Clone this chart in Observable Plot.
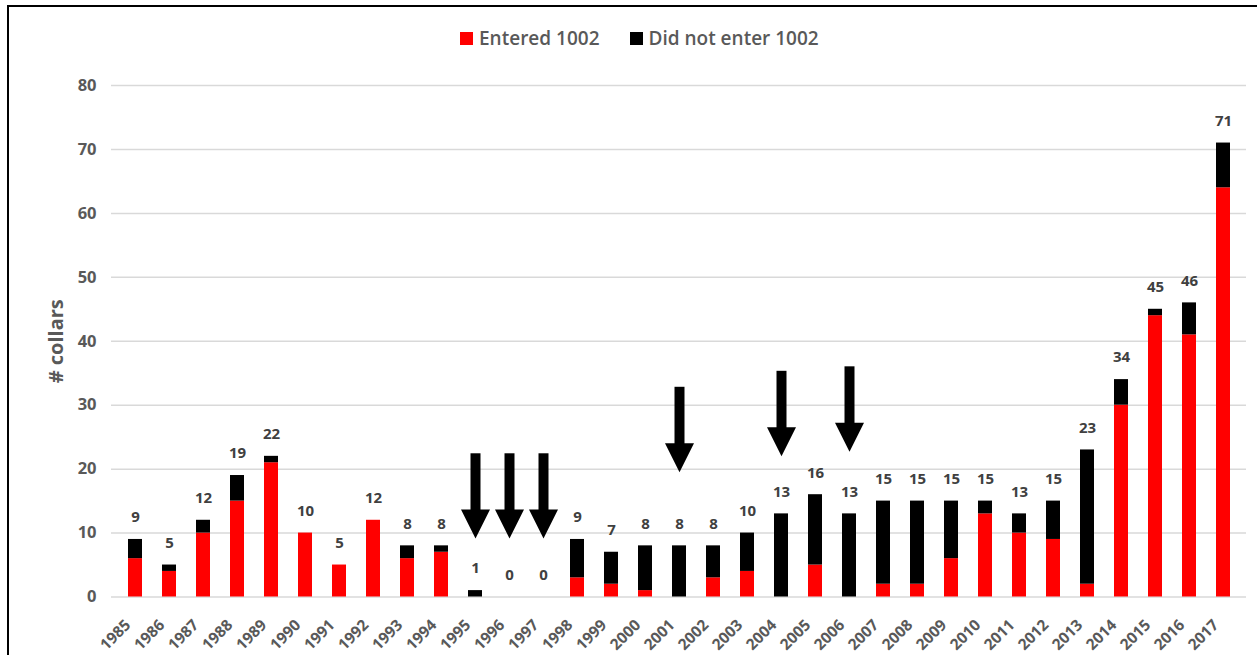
<!DOCTYPE html>
<html>
<head>
<meta charset="utf-8">
<script src="https://cdn.jsdelivr.net/npm/d3@7"></script>
<script src="https://cdn.jsdelivr.net/npm/@observablehq/plot@0.6"></script>
<style>
  html, body { margin: 0; padding: 0; background: #fff; overflow: hidden; width: 1257px; height: 655px; }
  #frame { position: absolute; left: 7px; top: 5px; width: 1300px; height: 700px;
           border-top: 2px solid #000; border-left: 2px solid #000; pointer-events: none; z-index: 5; }
  #legend { position: absolute; left: 460px; top: 26px; height: 24px; display: flex; align-items: center;
            font-family: "Open Sans", sans-serif; font-weight: 600; font-size: 19px; color: #595959; }
  #legend .sw { width: 13px; height: 13px; display: inline-block; margin-right: 6px; }
  #legend .item { display: flex; align-items: center; margin-right: 30px; }
  #chart { position: absolute; left: 0; top: 60px; }
</style>
</head>
<body>
<div id="frame"></div>
<div id="legend"></div>
<div id="chart"></div>
<script>
// ---- data ----
const years = [1985,1986,1987,1988,1989,1990,1991,1992,1993,1994,1995,1996,1997,1998,1999,2000,2001,2002,2003,2004,2005,2006,2007,2008,2009,2010,2011,2012,2013,2014,2015,2016,2017];
const entered = [6,4,10,15,21,10,5,12,6,7,0,0,0,3,2,1,0,3,4,0,5,0,2,2,6,13,10,9,2,30,44,41,64];
const notEntered = [3,1,2,4,1,0,0,0,2,1,1,0,0,6,5,7,8,5,6,13,11,13,13,13,9,2,3,6,21,4,1,5,7];
const totals = [9,5,12,19,22,10,5,12,8,8,1,0,0,9,7,8,8,8,10,13,16,13,15,15,15,15,13,15,23,34,45,46,71];
const seriesNames = ["Entered 1002", "Did not enter 1002"];
const seriesColors = ["#ff0000", "#000000"];
const yTicks = [0,10,20,30,40,50,60,70,80];
const yLabel = "# collars";
// arrows: year, shaft top value, tip value
const arrowYears = [1995,1996,1997,2001,2004,2006];
const arrowTop = [22.4,22.4,22.4,32.8,35.3,36.0];
const arrowTip = [9.15,9.15,9.15,19.5,22.0,22.7];

// ---- build tables ----
const stacked = [];
years.forEach((y, i) => {
  stacked.push({year: y, series: seriesNames[0], value: entered[i]});
  stacked.push({year: y, series: seriesNames[1], value: notEntered[i]});
});
const totalRows = years.map((y, i) => ({year: y, total: totals[i]}));
const arrows = arrowYears.map((y, i) => ({year: y, top: arrowTop[i], tip: arrowTip[i]}));

// legend
const legend = document.getElementById("legend");
seriesNames.forEach((n, i) => {
  const item = document.createElement("div");
  item.className = "item";
  const sw = document.createElement("span");
  sw.className = "sw";
  sw.style.background = seriesColors[i];
  const t = document.createElement("span");
  t.textContent = n;
  item.appendChild(sw); item.appendChild(t);
  legend.appendChild(item);
});

const headSymbol = {
  draw(context) {
    context.moveTo(-14.5, -29);
    context.lineTo(14.5, -29);
    context.lineTo(0, 0);
    context.closePath();
  }
};

const chart = Plot.plot({
  width: 1257,
  height: 595,
  marginLeft: 111,
  marginRight: 11,
  marginTop: 25,
  marginBottom: 58.5,
  style: {fontFamily: "'Open Sans', sans-serif", background: "transparent", overflow: "visible"},
  x: {type: "band", domain: years, paddingInner: 0.592, paddingOuter: 0.296},
  y: {domain: [0, 80]},
  color: {domain: seriesNames, range: seriesColors},
  marks: [
    Plot.gridY(yTicks, {stroke: "#d9d9d9", strokeOpacity: 1, strokeWidth: 1.5}),
    Plot.axisY(yTicks, {tickSize: 0, tickPadding: 15, fontSize: 16.5, fontWeight: 700, fill: "#595959", label: null}),
    Plot.axisX({tickRotate: -45, tickSize: 0, tickPadding: 18, dx: -7.5, dy: 7.5, fontSize: 15.5, fontWeight: 700, fill: "#595959", label: null, tickFormat: d => String(d)}),
    Plot.barY(stacked, {x: "year", y: "value", fill: "series", order: seriesNames}),
    Plot.text(totalRows, {x: "year", y: "total", text: d => String(d.total), dy: -22, fontSize: 15, fontWeight: 700, fill: "#404040"}),
    Plot.ruleX(arrows, {x: "year", y1: "top", y2: d => d.tip + 4.3, stroke: "#000", strokeWidth: 10}),
    Plot.dot(arrows, {x: "year", y: "tip", symbol: headSymbol, fill: "#000", stroke: "none"}),
    Plot.text([yLabel], {frameAnchor: "left", textAnchor: "middle", rotate: -90, dx: -55, fontSize: 20, fontWeight: 700, fill: "#595959"})
  ]
});
document.getElementById("chart").appendChild(chart);
</script>
</body>
</html>
